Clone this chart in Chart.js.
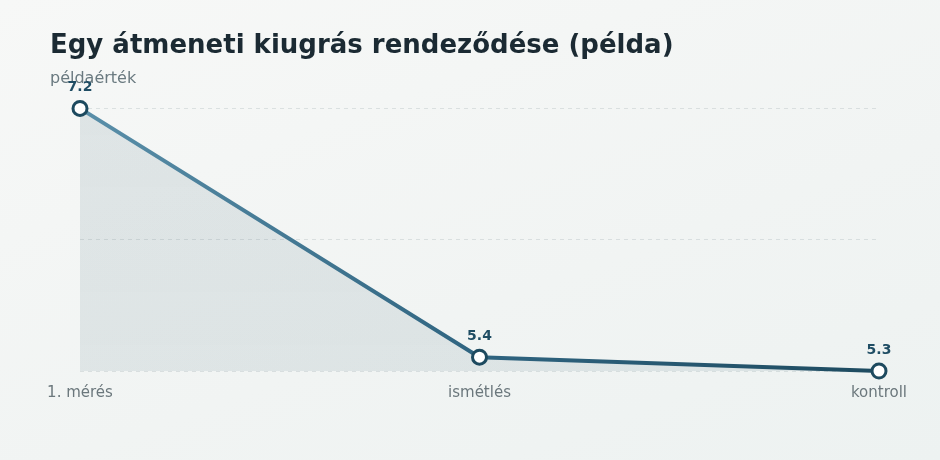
<!DOCTYPE html>
<html lang="hu">
<head>
<meta charset="utf-8">
<title>Egy átmeneti kiugrás rendeződése (példa)</title>
<script src="https://cdn.jsdelivr.net/npm/chart.js@4/dist/chart.umd.min.js"></script>
<style>
  html, body { margin: 0; padding: 0; }
  body {
    width: 940px; height: 460px; overflow: hidden;
    background: linear-gradient(160deg, #f7f8f7 0%, #f1f4f3 60%, #edf2f1 100%);
  }
  #wrap { position: relative; width: 940px; height: 460px; }
</style>
</head>
<body>
<div id="wrap"><canvas id="trendChart"></canvas></div>
<script>
// chart data
const categories = ["1. mérés", "ismétlés", "kontroll"];
const values = [7.2, 5.4, 5.3];
const yRange = [5.3, 7.2];

document.addEventListener("DOMContentLoaded", function() {
    Chart.defaults.font.family = "'DejaVu Sans', sans-serif";

    // value labels above the points
    const valueLabels = {
        id: "valueLabels",
        afterDatasetsDraw(chart) {
            const ctx = chart.ctx;
            const meta = chart.getDatasetMeta(0);
            ctx.save();
            ctx.font = "bold 14px 'DejaVu Sans', sans-serif";
            ctx.fillStyle = "#1f4d64";
            ctx.textAlign = "center";
            ctx.textBaseline = "middle";
            meta.data.forEach(function(pt, i) {
                ctx.fillText(values[i].toFixed(1), pt.x, pt.y - 21);
            });
            ctx.restore();
        }
    };

    const ctx1 = document.getElementById("trendChart").getContext("2d");
    new Chart(ctx1, {
        type: "line",
        data: {
            labels: categories,
            datasets: [{
                data: values,
                borderWidth: 4,
                borderColor: function(c) {
                    const a = c.chart.chartArea;
                    if (!a) return "#2f6480";
                    const g = c.chart.ctx.createLinearGradient(a.left, 0, a.right, 0);
                    g.addColorStop(0, "#5a8fa9");
                    g.addColorStop(0.5, "#2f6480");
                    g.addColorStop(1, "#1e4b60");
                    return g;
                },
                backgroundColor: function(c) {
                    const a = c.chart.chartArea;
                    if (!a) return "rgba(60,100,120,0.12)";
                    const g = c.chart.ctx.createLinearGradient(0, a.top, 0, a.bottom);
                    g.addColorStop(0, "rgba(70,105,120,0.13)");
                    g.addColorStop(1, "rgba(70,105,120,0.11)");
                    return g;
                },
                fill: "start",
                tension: 0,
                pointRadius: 7,
                pointHoverRadius: 7,
                pointBackgroundColor: "#ffffff",
                pointBorderColor: "#1d4a5f",
                pointBorderWidth: 3,
                clip: false
            }]
        },
        options: {
            responsive: true,
            maintainAspectRatio: false,
            animation: false,
            layout: {
                padding: { left: 50, right: 61, top: 0, bottom: 45 }
            },
            plugins: {
                legend: { display: false },
                tooltip: { enabled: false },
                title: {
                    display: true,
                    text: "Egy átmeneti kiugrás rendeződése (példa)",
                    align: "start",
                    color: "#1b2a33",
                    font: { size: 26, weight: "bold" },
                    padding: { top: 31, bottom: 7 }
                },
                subtitle: {
                    display: true,
                    text: "példaérték",
                    align: "start",
                    color: "#6a7a80",
                    font: { size: 16 },
                    padding: { top: 0, bottom: 20 }
                }
            },
            scales: {
                x: {
                    grid: { display: false, drawTicks: false },
                    border: { display: false },
                    offset: false,
                    ticks: {
                        color: "#6b777c",
                        font: { size: 15 },
                        padding: 13,
                        maxRotation: 0
                    }
                },
                y: {
                    min: yRange[0],
                    max: yRange[1],
                    afterFit: function(scale) { scale.width = 30; },
                    border: { display: false, dash: [4, 4] },
                    grid: {
                        color: "rgba(90,110,120,0.16)",
                        drawTicks: false
                    },
                    ticks: { display: false, count: 3 }
                }
            }
        },
        plugins: [valueLabels]
    });
});
</script>
</body>
</html>
